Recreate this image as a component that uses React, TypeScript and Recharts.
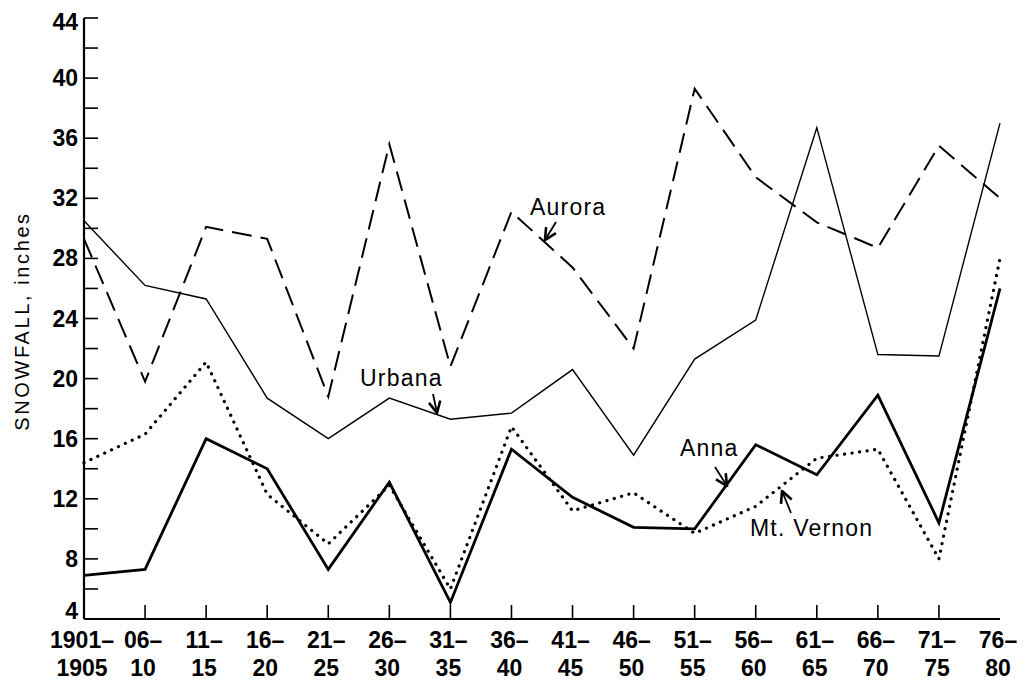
import React from "react";
import { LineChart, Line, XAxis, YAxis } from "recharts";

// five-year periods, split over two label lines
const PERIOD_START = ["1901–", "06–", "11–", "16–", "21–", "26–", "31–", "36–", "41–", "46–", "51–", "56–", "61–", "66–", "71–", "76–"];
const PERIOD_END = ["1905", "10", "15", "20", "25", "30", "35", "40", "45", "50", "55", "60", "65", "70", "75", "80"];

// snowfall, inches
const AURORA = [29.3, 19.8, 30.1, 29.3, 18.8, 35.6, 20.8, 31.1, 27.4, 22.0, 39.3, 33.4, 30.4, 28.7, 35.5, 32.0];
const URBANA = [30.5, 26.2, 25.3, 18.7, 16.0, 18.7, 17.3, 17.7, 20.6, 14.9, 21.3, 23.9, 36.7, 21.6, 21.5, 37.0];
const ANNA = [6.9, 7.3, 16.0, 14.0, 7.3, 13.1, 5.1, 15.3, 12.1, 10.1, 10.0, 15.6, 13.6, 18.9, 10.4, 26.0];
const MT_VERNON = [14.4, 16.3, 21.1, 12.3, 9.0, 12.9, 6.0, 16.8, 11.2, 12.4, 9.7, 11.5, 14.7, 15.3, 8.0, 28.0];

const Y_TICKS = [4, 6, 8, 10, 12, 14, 16, 18, 20, 22, 24, 26, 28, 30, 32, 34, 36, 38, 40, 42, 44];

const data = PERIOD_START.map((p, i) => ({
  period: i,
  aurora: AURORA[i],
  urbana: URBANA[i],
  anna: ANNA[i],
  mtVernon: MT_VERNON[i],
}));

const W = 1029;
const H = 685;
const TICK_LEN = 14;
const SANS = "'Liberation Sans', Arial, Helvetica, sans-serif";
const TICK_FONT = 23;

function LeftTick({ x, y, payload }: any) {
  const v = payload.value;
  // end labels are nudged inside so they clear the x labels / top edge
  const shift = v === 4 ? -8 : v === 44 ? 4 : 0;
  return (
    <g>
      <line x1={x} x2={x + TICK_LEN} y1={y} y2={y} stroke="#000" strokeWidth={1.6} />
      {v % 4 === 0 && (
        <text x={x - 6} y={y + shift} dy={8} textAnchor="end" fontFamily={SANS} fontWeight={700} fontSize={TICK_FONT} fill="#000">
          {v}
        </text>
      )}
    </g>
  );
}

function RightTick({ x, y }: any) {
  return <line x1={x - TICK_LEN} x2={x} y1={y} y2={y} stroke="#000" strokeWidth={1.6} />;
}

function TopTick({ x, y, index }: any) {
  if (index === 0 || index === PERIOD_START.length - 1) return null;
  return <line x1={x} x2={x} y1={y} y2={y + TICK_LEN + 1} stroke="#000" strokeWidth={1.6} />;
}

function BottomTick({ x, y, index }: any) {
  const edge = index === 0 || index === PERIOD_START.length - 1;
  return (
    <g>
      {!edge && <line x1={x} x2={x} y1={y} y2={y - TICK_LEN} stroke="#000" strokeWidth={1.6} />}
      <text x={x - 2} y={y + 29} textAnchor="middle" fontFamily={SANS} fontWeight={700} fontSize={TICK_FONT} fill="#000">
        {PERIOD_START[index]}
      </text>
      <text x={x - 2} y={y + 57} textAnchor="middle" fontFamily={SANS} fontWeight={700} fontSize={TICK_FONT} fill="#000">
        {PERIOD_END[index]}
      </text>
    </g>
  );
}

function Annotations() {
  const txt = { fontFamily: SANS, fontSize: 23, letterSpacing: 1.2, fill: "#000" };
  return (
    <svg width={W} height={H} style={{ position: "absolute", left: 0, top: 0, pointerEvents: "none" }}>
      <defs>
        <marker id="arr" viewBox="0 0 10 10" refX="9" refY="5" markerWidth="8" markerHeight="8" orient="auto">
          <path d="M1,1 L9,5 L1,9" fill="none" stroke="#000" strokeWidth={1.8} />
        </marker>
      </defs>
      <text
        x={22}
        y={321}
        transform="rotate(-90 22 321)"
        textAnchor="middle"
        dominantBaseline="central"
        fontFamily={SANS}
        fontSize={20}
        letterSpacing={2.6}
        fill="#000"
      >
        SNOWFALL, inches
      </text>
      <text x={530} y={215} {...txt}>Aurora</text>
      <line x1={556} y1={222} x2={545} y2={240} stroke="#000" strokeWidth={1.8} markerEnd="url(#arr)" />
      <text x={360} y={386} {...txt}>Urbana</text>
      <line x1={433} y1={394} x2={437} y2={413} stroke="#000" strokeWidth={1.8} markerEnd="url(#arr)" />
      <text x={680} y={456} {...txt}>Anna</text>
      <line x1={715} y1={467} x2={727} y2={486} stroke="#000" strokeWidth={1.8} markerEnd="url(#arr)" />
      <text x={750} y={536} {...txt}>Mt. Vernon</text>
      <line x1={791} y1={513} x2={782} y2={491} stroke="#000" strokeWidth={1.8} markerEnd="url(#arr)" />
    </svg>
  );
}

export default function App() {
  return (
    <div style={{ position: "absolute", left: 0, top: 0, width: W, height: H, background: "#fff" }}>
      <LineChart width={W} height={H} data={data} margin={{ top: 18, right: 29, bottom: 0, left: 0 }}>
        <XAxis
          xAxisId="bottom"
          dataKey="period"
          type="category"
          orientation="bottom"
          height={66}
          interval={0}
          tickSize={0}
          tickMargin={0}
          tick={<BottomTick />}
          axisLine={{ stroke: "#000", strokeWidth: 2.2 }}
          tickLine={false}
        />
        <XAxis
          xAxisId="top"
          dataKey="period"
          type="category"
          orientation="top"
          height={0}
          interval={0}
          tickSize={0}
          tickMargin={0}
          tick={<TopTick />}
          axisLine={{ stroke: "#000", strokeWidth: 2.2 }}
          tickLine={false}
        />
        <YAxis
          yAxisId="left"
          orientation="left"
          width={84}
          domain={[4, 44]}
          ticks={Y_TICKS}
          interval={0}
          tickSize={0}
          tickMargin={0}
          tick={<LeftTick />}
          axisLine={{ stroke: "#000", strokeWidth: 2.2 }}
          tickLine={false}
        />
        <YAxis
          yAxisId="right"
          orientation="right"
          width={0}
          domain={[4, 44]}
          ticks={Y_TICKS}
          interval={0}
          tickSize={0}
          tickMargin={0}
          tick={<RightTick />}
          axisLine={{ stroke: "#000", strokeWidth: 2.2 }}
          tickLine={false}
        />
        <Line
          xAxisId="bottom"
          yAxisId="left"
          dataKey="urbana"
          type="linear"
          stroke="#000"
          strokeWidth={1.4}
          dot={false}
          isAnimationActive={false}
        />
        <Line
          xAxisId="bottom"
          yAxisId="left"
          dataKey="aurora"
          type="linear"
          stroke="#000"
          strokeWidth={2}
          strokeDasharray="20 9"
          dot={false}
          isAnimationActive={false}
        />
        <Line
          xAxisId="bottom"
          yAxisId="left"
          dataKey="anna"
          type="linear"
          stroke="#000"
          strokeWidth={2.8}
          dot={false}
          isAnimationActive={false}
        />
        <Line
          xAxisId="bottom"
          yAxisId="left"
          dataKey="mtVernon"
          type="linear"
          stroke="#000"
          strokeWidth={3.2}
          strokeDasharray="0.1 7.5"
          strokeLinecap="round"
          dot={false}
          isAnimationActive={false}
        />
      </LineChart>
      <Annotations />
    </div>
  );
}
